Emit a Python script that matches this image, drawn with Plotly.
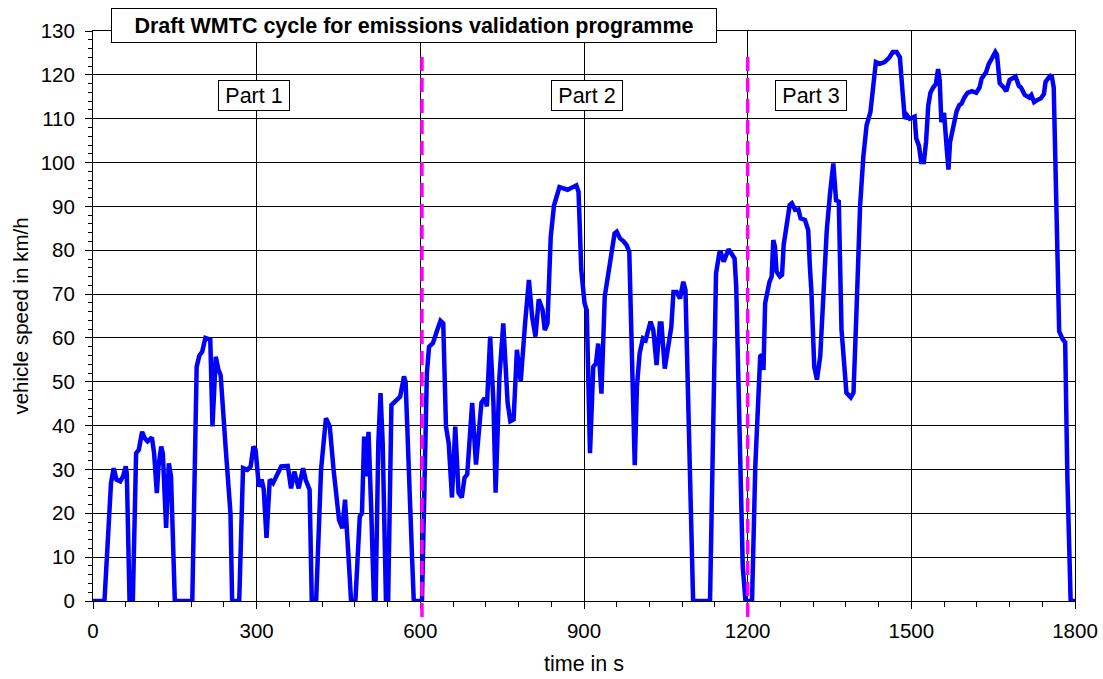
import plotly.graph_objects as go

# WMTC draft cycle, speed trace
part1_time = [0, 21, 33, 38, 43, 50, 55, 60, 62, 67,
              73, 79, 84, 90, 95, 100, 108, 112, 117, 120,
              125, 128, 134, 139, 143, 150, 182, 190, 195, 200,
              206, 215, 219, 225, 230, 234, 243, 252, 255, 268,
              275, 283, 289, 294, 298, 304, 309, 313, 318, 324,
              330, 337, 345, 357, 363, 369, 377, 385, 390, 397,
              401, 409, 418, 427, 434, 441, 451, 457, 462, 469,
              473, 481, 489, 493, 497, 501, 505, 510, 515, 518,
              523, 527, 531, 537, 541, 547, 557, 563, 570, 573,
              585, 588, 603]
part1_speed = [0, 0, 26.9, 30.3, 27.7, 27.3, 28.4, 30.7, 29, 0,
               0, 33.7, 34.5, 38.6, 37.1, 36.4, 37.3, 33.7, 24.6, 30.7,
               35.2, 33.7, 16.7, 31.4, 28.4, 0, 0, 53.4, 56, 56.8,
               60, 59.6, 39.8, 55.7, 52.7, 51.5, 35.2, 20, 0, 0,
               30.3, 29.9, 30.7, 35.2, 34.5, 26.1, 27.7, 25.4, 14.4, 27.7,
               26.9, 28.8, 30.7, 30.8, 25.7, 29.5, 25.7, 30.3, 27.6, 25.4,
               0, 0, 29.9, 41.7, 39.8, 29.9, 18.5, 16.6, 23.1, 8.7,
               0, 0, 19.3, 20, 37.5, 28.4, 38.6, 20.8, 0, 0,
               36, 47.4, 36, 0, 0, 44.7, 45.9, 46.6, 51.2, 50,
               9.4, 0, 0]

part2_time = [608, 612, 616, 623, 631, 637, 642, 647, 652, 658,
              664, 670, 676, 681, 686, 695, 702, 712, 718, 722,
              728, 734, 738, 745, 752, 760, 765, 771, 777, 784,
              792, 799, 805, 811, 817, 824, 828, 833, 839, 845,
              855, 870, 886, 890, 895, 901, 905, 911, 917, 922,
              926, 932, 938, 944, 950, 956, 960, 966, 972, 978,
              983, 987, 993, 997, 1002, 1008, 1013, 1017, 1022, 1027,
              1033, 1039, 1042, 1048, 1054, 1060, 1064, 1070, 1076, 1082,
              1086, 1093, 1100, 1131, 1136, 1142, 1148, 1151, 1156, 1160,
              1165, 1170, 1176, 1179, 1184, 1191, 1196]
part2_speed = [30, 52, 58, 58.8, 61.8, 63.9, 63.3, 39.8, 36, 23.6,
               39.8, 24.7, 23.6, 28.1, 28.9, 45.2, 31.1, 45.2, 46.3, 44.4,
               60.3, 45.2, 24.7, 51.2, 63.3, 45.2, 41, 41.4, 57.3, 50.1,
               63.3, 73.2, 64.8, 60.3, 68.8, 66.4, 61.8, 63.3, 83, 90.2,
               94.4, 93.8, 94.8, 93.3, 75.5, 67.9, 66.3, 33.7, 53.4, 54.2,
               58.7, 47.3, 69.4, 73.9, 78.5, 83.8, 84.2, 82.7, 82.1, 81.2,
               79.6, 56.5, 31, 48.9, 56.5, 59.9, 59.5, 61.4, 63.7, 61.8,
               53.8, 63.3, 63.3, 53, 58.7, 62.5, 70.5, 70.5, 69, 72.8,
               70.9, 33.7, 0, 0, 33.7, 74.7, 79.3, 79.4, 77.4, 78.5,
               80.2, 79.3, 78.1, 71.7, 48.9, 7.8, 0]

part3_time = [1208, 1214, 1218, 1223, 1226, 1229, 1232, 1235, 1240, 1244,
              1247, 1250, 1253, 1259, 1263, 1266, 1272, 1277, 1281, 1287,
              1293, 1297, 1305, 1311, 1314, 1317, 1322, 1327, 1333, 1339,
              1345, 1351, 1357, 1362, 1367, 1372, 1377, 1381, 1389, 1394,
              1400, 1406, 1412, 1418, 1425, 1430, 1435, 1442, 1451, 1460,
              1466, 1473, 1479, 1484, 1488, 1492, 1497, 1506, 1509, 1514,
              1518, 1523, 1527, 1531, 1535, 1540, 1545, 1549, 1552, 1555,
              1560, 1565, 1568, 1571, 1577, 1583, 1588, 1592, 1597, 1603,
              1611, 1619, 1625, 1629, 1637, 1642, 1648, 1654, 1657, 1662,
              1668, 1674, 1680, 1691, 1697, 1701, 1708, 1716, 1720, 1725,
              1730, 1737, 1743, 1746, 1752, 1757, 1761, 1765, 1771, 1777,
              1782, 1786, 1792, 1800]
part3_speed = [0, 30.7, 43.6, 55.8, 56.1, 52.7, 67.9, 70.2, 72.8, 74,
               82.3, 80.8, 75.1, 74, 74.4, 81.2, 86.1, 90.3, 90.7, 89.2,
               89.3, 87.3, 86.9, 84.6, 76.3, 70.2, 53.5, 50.5, 55.8, 70.2,
               84.6, 93, 99.8, 91.4, 91.1, 61.9, 55.1, 47.5, 46.4, 47.5,
               68, 89.9, 101.3, 108.5, 111.5, 118, 122.9, 122.5, 122.9, 124,
               125.2, 125.2, 124, 116, 110, 110.8, 110, 110.5, 105.5, 103.8,
               100.1, 100.1, 104.7, 113, 115.9, 117.1, 117.9, 121.3, 118.8, 109.2,
               111.3, 103, 98.4, 104.7, 108.8, 111.7, 113.1, 113.4, 114.8, 115.9,
               116.3, 115.9, 117.1, 119.2, 120.6, 122.5, 123.8, 125.2, 124.6, 118.1,
               117.3, 116.3, 118.8, 119.6, 117.5, 117.1, 115.4, 114.8, 115.4, 113.8,
               114.2, 114.6, 115.6, 118.4, 119.4, 120, 117.1, 94.7, 61.5, 59.8,
               59, 28.2, 0, 0]

part_boundaries = [603, 1200]
part_labels = ["Part 1", "Part 2", "Part 3"]
part_label_time = [295, 906, 1316]
part_label_speed = 115.4

title = "Draft WMTC cycle for emissions validation programme"

FONT = "Arial, 'Liberation Sans', sans-serif"
BLUE = "#0000FF"
MAGENTA = "#FF00FF"

time_s = part1_time + part2_time + part3_time
speed = part1_speed + part2_speed + part3_speed

fig = go.Figure()
fig.add_trace(go.Scatter(
    x=time_s, y=speed, mode="lines",
    line={"color": BLUE, "width": 4.5},
    showlegend=False, hoverinfo="x+y",
))

for t in part_boundaries:
    fig.add_shape(type="line", xref="x", yref="paper",
                  x0=t, x1=t, y0=-0.028, y1=0.961,
                  line={"color": MAGENTA, "width": 3.5, "dash": "14px,7px"},
                  layer="above")

for label, t in zip(part_labels, part_label_time):
    fig.add_annotation(x=t, y=part_label_speed, xref="x", yref="y",
                       xanchor="center", yanchor="middle",
                       text=label, showarrow=False,
                       font={"size": 21.5, "color": "black", "family": FONT},
                       bgcolor="white", bordercolor="black", borderwidth=1,
                       width=68, height=27, borderpad=1)

fig.add_annotation(x=0.3269, y=1.0096, xref="paper", yref="paper",
                   xanchor="center", yanchor="middle",
                   text=f"<b>{title}</b>", showarrow=False,
                   font={"size": 21.5, "color": "black", "family": FONT},
                   bgcolor="white", bordercolor="black", borderwidth=1,
                   width=602, height=31, borderpad=1)

axis_common = {
    "showline": True, "linecolor": "black", "linewidth": 1,
    "mirror": True, "zeroline": False,
    "showgrid": True, "gridcolor": "black", "gridwidth": 1,
    "ticks": "outside", "ticklen": 7, "tickcolor": "black",
    "tickfont": {"size": 20.5, "color": "black", "family": FONT},
    "ticklabeloverflow": "allow",
}

fig.update_layout(
    template="none",
    width=1103, height=679,
    paper_bgcolor="white", plot_bgcolor="white",
    font={"family": FONT, "color": "black"},
    margin={"l": 93, "r": 28, "t": 31, "b": 78},
    showlegend=False,
    xaxis={**axis_common,
           "range": [0, 1800], "tick0": 0, "dtick": 300,
           "ticklabelstandoff": 4,
           "minor": {"dtick": 60, "ticks": "outside", "ticklen": 5,
                     "tickcolor": "black", "showgrid": False},
           "title": {"text": "time in s", "standoff": 15,
                     "font": {"size": 21.5, "family": FONT}}},
    yaxis={**axis_common,
           "range": [0, 130], "tick0": 0, "dtick": 10,
           "ticklabelstandoff": 6,
           "minor": {"dtick": 2, "ticks": "outside", "ticklen": 4,
                     "tickcolor": "black", "showgrid": False},
           "title": {"text": "vehicle speed in km/h", "standoff": 6,
                     "font": {"size": 20.5, "family": FONT}}},
    # overlay axes only to draw the inner half of the crossing ticks
    xaxis2={"overlaying": "x", "anchor": "y", "side": "bottom",
            "range": [0, 1800], "tick0": 0, "dtick": 300,
            "showgrid": False, "zeroline": False, "showline": False,
            "showticklabels": False, "ticks": "inside", "ticklen": 4,
            "tickcolor": "black",
            "minor": {"dtick": 60, "ticks": "inside", "ticklen": 4,
                      "tickcolor": "black", "showgrid": False}},
    yaxis2={"overlaying": "y", "anchor": "x", "side": "left",
            "range": [0, 130], "tick0": 0, "dtick": 10,
            "showgrid": False, "zeroline": False, "showline": False,
            "showticklabels": False, "ticks": "inside", "ticklen": 4,
            "tickcolor": "black",
            "minor": {"dtick": 2, "ticks": "inside", "ticklen": 4,
                      "tickcolor": "black", "showgrid": False}},
)

# drop the default 8px body margin so the figure fills the window exactly
fig.write_html("out.html", config={"displayModeBar": False},
               post_script="document.body.style.margin = '0';")
